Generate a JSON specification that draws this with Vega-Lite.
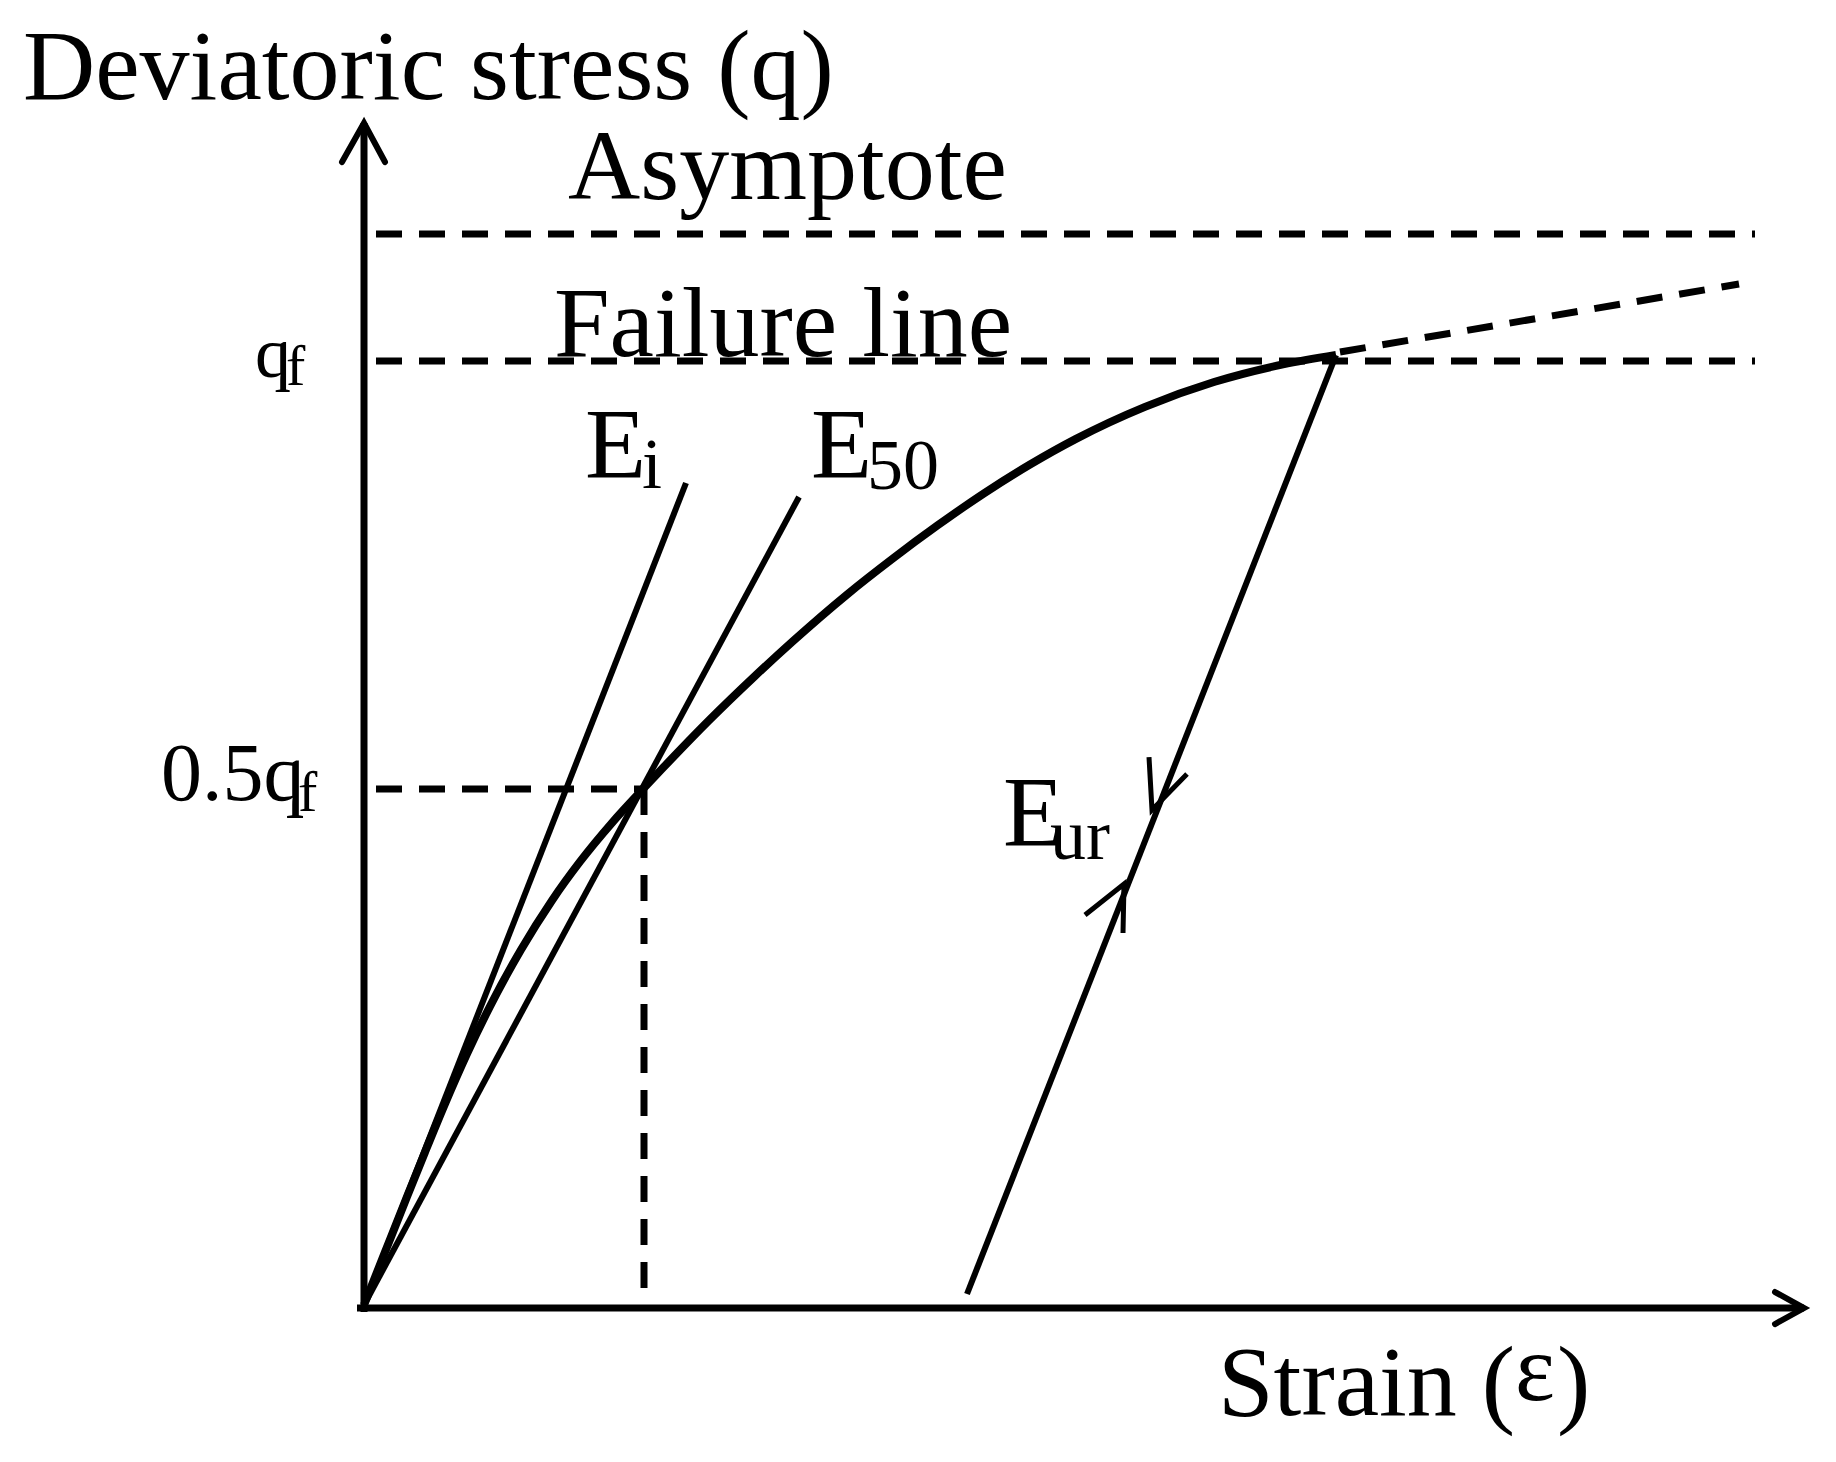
{
  "$schema": "https://vega.github.io/schema/vega-lite/v6.json",
  "width": 1836,
  "height": 1462,
  "autosize": {"type": "fit", "contains": "padding"},
  "padding": 0,
  "background": "white",
  "config": {"view": {"stroke": null}},
  "encoding": {
    "x": {"field": "strain", "type": "quantitative", "axis": null, "scale": {"domain": [-3.64, 14.72], "nice": false, "zero": false}},
    "y": {"field": "q", "type": "quantitative", "axis": null, "scale": {"domain": [-0.1626, 1.3812], "nice": false, "zero": false}}
  },
  "layer": [
    {
      "data": {"values": [
        {"seg": "yaxis", "i": 0, "strain": 0, "q": -0.0042},
        {"seg": "yaxis", "i": 1, "strain": 0, "q": 1.2513},
        {"seg": "xaxis", "i": 0, "strain": -0.07, "q": 0},
        {"seg": "xaxis", "i": 1, "strain": 14.40, "q": 0}
      ]},
      "mark": {"type": "line", "stroke": "black", "strokeWidth": 7, "strokeCap": "butt"},
      "encoding": {"detail": {"field": "seg"}, "order": {"field": "i", "type": "quantitative"}}
    },
    {
      "data": {"values": [
        {"seg": "yarrow", "i": 0, "strain": -0.22, "q": 1.2101},
        {"seg": "yarrow", "i": 1, "strain": 0, "q": 1.2513},
        {"seg": "yarrow", "i": 2, "strain": 0.21, "q": 1.2101},
        {"seg": "xarrow", "i": 0, "strain": 14.11, "q": 0.0169},
        {"seg": "xarrow", "i": 1, "strain": 14.40, "q": 0},
        {"seg": "xarrow", "i": 2, "strain": 14.11, "q": -0.0169}
      ]},
      "mark": {"type": "line", "stroke": "black", "strokeWidth": 6, "strokeCap": "round", "strokeJoin": "miter"},
      "encoding": {"detail": {"field": "seg"}, "order": {"field": "i", "type": "quantitative"}}
    },
    {
      "data": {"values": [
        {"seg": "asymptote", "i": 0, "strain": 0.12, "q": 1.1341},
        {"seg": "asymptote", "i": 1, "strain": 13.91, "q": 1.1341},
        {"seg": "failure", "i": 0, "strain": 0.12, "q": 1.0},
        {"seg": "failure", "i": 1, "strain": 13.91, "q": 1.0},
        {"seg": "half", "i": 0, "strain": 0.12, "q": 0.548},
        {"seg": "half", "i": 1, "strain": 2.79, "q": 0.548},
        {"seg": "vert", "i": 0, "strain": 2.80, "q": 0.548},
        {"seg": "vert", "i": 1, "strain": 2.80, "q": 0.0063},
        {"seg": "ext", "i": 0, "strain": 9.76, "q": 1.0095},
        {"seg": "ext", "i": 1, "strain": 13.75, "q": 1.0813}
      ]},
      "mark": {"type": "line", "stroke": "black", "strokeWidth": 7, "strokeDash": [26, 17], "strokeCap": "butt"},
      "encoding": {"detail": {"field": "seg"}, "order": {"field": "i", "type": "quantitative"}}
    },
    {
      "data": {"values": [
        {"seg": "Ei", "i": 0, "strain": 0, "q": 0.0032},
        {"seg": "Ei", "i": 1, "strain": 3.22, "q": 0.8712},
        {"seg": "E50", "i": 0, "strain": 0, "q": 0.0032},
        {"seg": "E50", "i": 1, "strain": 4.35, "q": 0.8564},
        {"seg": "Eur", "i": 0, "strain": 9.72, "q": 1.0063},
        {"seg": "Eur", "i": 1, "strain": 6.03, "q": 0.0148}
      ]},
      "mark": {"type": "line", "stroke": "black", "strokeWidth": 6, "strokeCap": "butt"},
      "encoding": {"detail": {"field": "seg"}, "order": {"field": "i", "type": "quantitative"}}
    },
    {
      "data": {"values": [
        {"strain": 0, "q": 0.0032},
        {"strain": 0.21, "q": 0.0591},
        {"strain": 0.42, "q": 0.1148},
        {"strain": 0.61, "q": 0.1646},
        {"strain": 0.80, "q": 0.2132},
        {"strain": 1.03, "q": 0.2684},
        {"strain": 1.26, "q": 0.3185},
        {"strain": 1.57, "q": 0.3783},
        {"strain": 1.88, "q": 0.4304},
        {"strain": 2.16, "q": 0.4713},
        {"strain": 2.48, "q": 0.5123},
        {"strain": 2.79, "q": 0.548},
        {"strain": 2.99, "q": 0.5704},
        {"strain": 3.45, "q": 0.6205},
        {"strain": 3.91, "q": 0.6674},
        {"strain": 4.28, "q": 0.7033},
        {"strain": 4.83, "q": 0.7534},
        {"strain": 5.29, "q": 0.7916},
        {"strain": 5.74, "q": 0.8267},
        {"strain": 6.20, "q": 0.8603},
        {"strain": 6.66, "q": 0.8907},
        {"strain": 7.12, "q": 0.9178},
        {"strain": 7.81, "q": 0.9516},
        {"strain": 8.50, "q": 0.9778},
        {"strain": 9.19, "q": 0.9964},
        {"strain": 9.72, "q": 1.0065}
      ]},
      "mark": {"type": "line", "stroke": "black", "strokeWidth": 8, "interpolate": "monotone", "strokeCap": "butt"},
      "encoding": {"order": {"field": "strain", "type": "quantitative"}}
    },
    {
      "data": {"values": [
        {"seg": "down", "i": 0, "strain": 7.85, "q": 0.5818},
        {"seg": "down", "i": 1, "strain": 7.88, "q": 0.5259},
        {"seg": "down", "i": 2, "strain": 8.23, "q": 0.5639},
        {"seg": "up", "i": 0, "strain": 7.59, "q": 0.3960},
        {"seg": "up", "i": 1, "strain": 7.60, "q": 0.4477},
        {"seg": "up", "i": 2, "strain": 7.21, "q": 0.4150}
      ]},
      "mark": {"type": "line", "stroke": "black", "strokeWidth": 5, "strokeCap": "butt", "strokeJoin": "miter"},
      "encoding": {"detail": {"field": "seg"}, "order": {"field": "i", "type": "quantitative"}}
    },
    {
      "data": {"values": [
        {"label": "Deviatoric stress (q)", "strain": -3.41, "q": 1.2767},
        {"label": "Asymptote", "strain": 2.04, "q": 1.1711},
        {"label": "Failure line", "strain": 1.90, "q": 1.0053},
        {"label": "Strain (", "strain": 8.54, "q": -0.1130},
        {"label": ")", "strain": 11.93, "q": -0.1130},
        {"label": "E", "strain": 2.21, "q": 0.8775},
        {"label": "E", "strain": 4.47, "q": 0.8775},
        {"label": "E", "strain": 6.39, "q": 0.4889}
      ]},
      "mark": {"type": "text", "font": "Liberation Serif", "fontSize": 100, "align": "left", "baseline": "alphabetic", "color": "black"},
      "encoding": {"text": {"field": "label"}}
    },
    {
      "data": {"values": [
        {"label": "ε", "strain": 11.51, "q": -0.0972}
      ]},
      "mark": {"type": "text", "font": "Liberation Serif", "fontSize": 95, "align": "left", "baseline": "alphabetic", "color": "black"},
      "encoding": {"text": {"field": "label"}}
    },
    {
      "data": {"values": [
        {"label": "0.5q", "strain": -2.03, "q": 0.5364}
      ]},
      "mark": {"type": "text", "font": "Liberation Serif", "fontSize": 82, "align": "left", "baseline": "alphabetic", "color": "black"},
      "encoding": {"text": {"field": "label"}}
    },
    {
      "data": {"values": [
        {"label": "q", "strain": -1.09, "q": 0.9831},
        {"label": "i", "strain": 2.78, "q": 0.8659},
        {"label": "50", "strain": 5.03, "q": 0.8648},
        {"label": "ur", "strain": 6.86, "q": 0.4741}
      ]},
      "mark": {"type": "text", "font": "Liberation Serif", "fontSize": 72, "align": "left", "baseline": "alphabetic", "color": "black"},
      "encoding": {"text": {"field": "label"}}
    },
    {
      "data": {"values": [
        {"label": "f", "strain": -0.78, "q": 0.9747},
        {"label": "f", "strain": -0.66, "q": 0.5248}
      ]},
      "mark": {"type": "text", "font": "Liberation Serif", "fontSize": 58, "align": "left", "baseline": "alphabetic", "color": "black"},
      "encoding": {"text": {"field": "label"}}
    }
  ]
}
